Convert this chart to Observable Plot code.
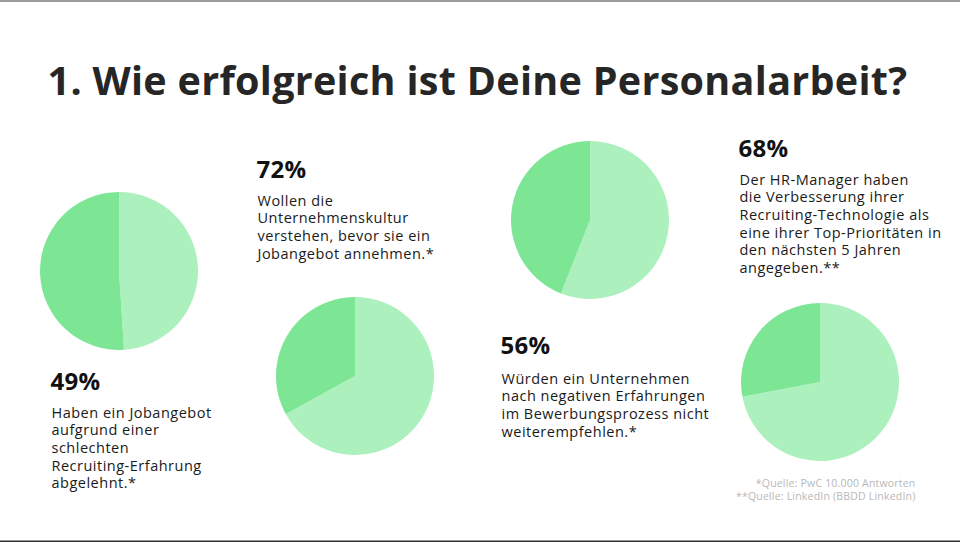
<!DOCTYPE html>
<html><head><meta charset="utf-8">
<script src="https://cdn.jsdelivr.net/npm/d3@7"></script>
<script src="https://cdn.jsdelivr.net/npm/@observablehq/plot@0.6"></script>
<style>
html,body{margin:0;padding:0;background:#fff;}
#chart svg{display:block;}
g[aria-description="body"] text{letter-spacing:0.5px;}
g[aria-description="pct"] text{letter-spacing:0.3px;}
g[aria-description="title"] text{letter-spacing:0.3px;}
g[aria-description="sources"] text{letter-spacing:0.2px;}
</style></head><body><div id="chart"></div>
<script>
// ---- data ----
const title = "1. Wie erfolgreich ist Deine Personalarbeit?";
const percentLabels = ["49%", "72%", "56%", "68%"];
const descriptions = [
  ["Haben ein Jobangebot", "aufgrund einer", "schlechten", "Recruiting-Erfahrung", "abgelehnt.*"],
  ["Wollen die", "Unternehmenskultur", "verstehen, bevor sie ein", "Jobangebot annehmen.*"],
  ["Würden ein Unternehmen", "nach negativen Erfahrungen", "im Bewerbungsprozess nicht", "weiterempfehlen.*"],
  ["Der HR-Manager haben", "die Verbesserung ihrer", "Recruiting-Technologie als", "eine ihrer Top-Prioritäten in", "den nächsten 5 Jahren", "angegeben.**"]
];
// pie shares as drawn (light slice clockwise from 12 o'clock, dark slice the rest)
const lightShare = [49, 67, 56, 72];
const darkShare = [51, 33, 44, 28];
const sources = ["*Quelle: PwC 10.000 Antworten", "**Quelle: LinkedIn (BBDD LinkedIn)"];

// ---- layout (page pixels) ----
const W = 960, H = 542;
const pieCenters = [[119, 271], [355, 376], [590, 220], [820, 382]];
const pieRadius = 79;
const labelPos = [[50, 389], [256, 177], [500, 353], [738, 156]];
const bodyStart = [417, 205, 383, 184];
const lineStep = 17.7;
const lightColor = "#abf0bd", darkColor = "#7de694";
const FONT = "'Open Sans', sans-serif";

const pctRows = percentLabels.map((t, i) => ({t, x: labelPos[i][0], y: labelPos[i][1]}));
const bodyRows = descriptions.flatMap((lines, i) =>
  lines.map((t, j) => ({t, x: labelPos[i][0] + 1, y: bodyStart[i] + j * lineStep})));
const sourceRows = sources.map((t, i) => ({t, x: 915, y: 486 + i * 13.5}));

function pieMark(index, scales) {
  const g = d3.create("svg:g").attr("aria-label", "pies");
  const pie = d3.pie().sort(null).value(d => d.v);
  const r = Math.abs(scales.x(pieRadius) - scales.x(0));
  const arc = d3.arc().innerRadius(0).outerRadius(r);
  lightShare.forEach((l, i) => {
    const cx = scales.x(pieCenters[i][0]), cy = scales.y(pieCenters[i][1]);
    const arcs = pie([{v: l, c: lightColor}, {v: darkShare[i], c: darkColor}]);
    g.append("g").attr("transform", `translate(${cx},${cy})`)
      .selectAll("path").data(arcs).join("path")
      .attr("d", arc).attr("fill", d => d.data.c);
  });
  return g.node();
}

const chart = Plot.plot({
  width: W, height: H,
  margin: 0,
  x: {domain: [0, W], range: [0, W], axis: null},
  y: {domain: [0, H], range: [0, H], axis: null},
  style: {background: "#fff", overflow: "visible"},
  marks: [
    Plot.ruleY([0.5], {stroke: "#3a3a3a", strokeWidth: 1}),
    Plot.ruleY([541], {stroke: "#2e2e2e", strokeWidth: 2}),
    Plot.text([title], {x: 47, y: 94, text: d => d, textAnchor: "start", lineAnchor: "bottom",
      fontSize: 39.5, fontWeight: 700, fontFamily: FONT, fill: "#262626", ariaDescription: "title"}),
    pieMark,
    Plot.text(pctRows, {x: "x", y: "y", text: "t", textAnchor: "start", lineAnchor: "bottom",
      fontSize: 24, fontWeight: 700, fontFamily: FONT, fill: "#111", ariaDescription: "pct"}),
    Plot.text(bodyRows, {x: "x", y: "y", text: "t", textAnchor: "start", lineAnchor: "bottom",
      fontSize: 14.5, fontWeight: 400, fontFamily: FONT, fill: "#1a1a1a", ariaDescription: "body"}),
    Plot.text(sourceRows, {x: "x", y: "y", text: "t", textAnchor: "end", lineAnchor: "bottom",
      fontSize: 10.5, fontWeight: 400, fontFamily: FONT, fill: "#b8b8b8", ariaDescription: "sources"})
  ]
});
document.getElementById("chart").append(chart);
</script>
</body></html>
